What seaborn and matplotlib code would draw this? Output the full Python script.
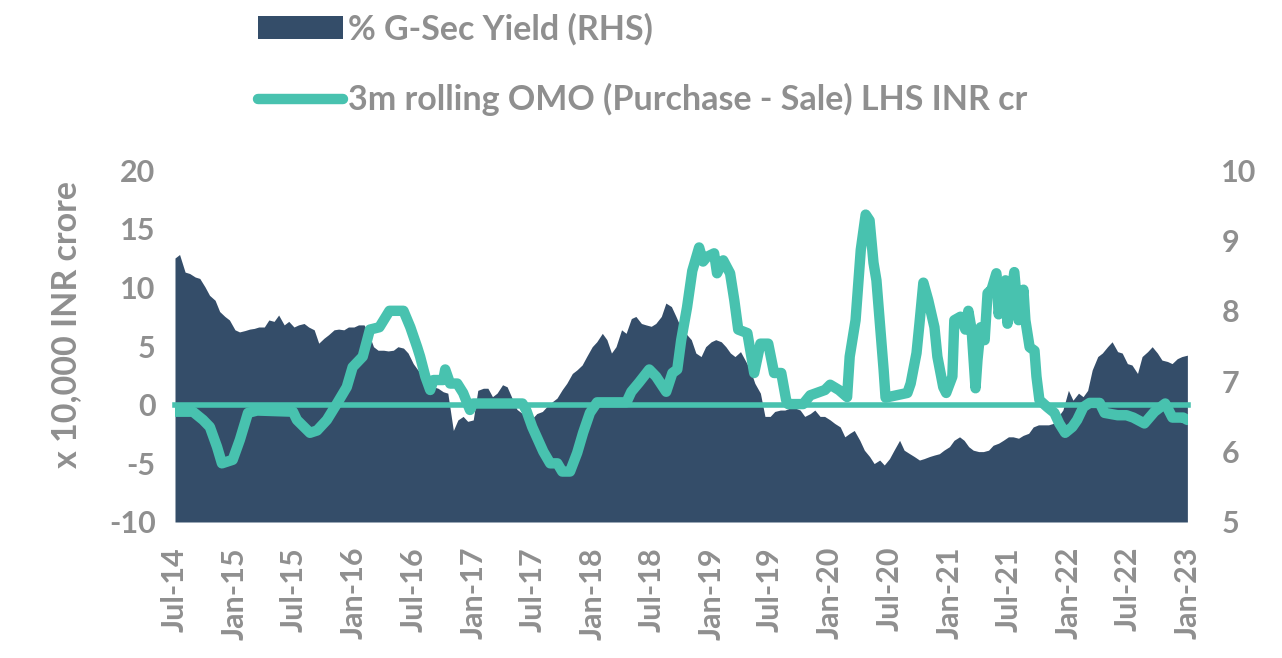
import pandas as pd
import matplotlib
matplotlib.use('Agg')
import matplotlib.pyplot as plt
import matplotlib.dates as mdates
from matplotlib.patches import Patch
from matplotlib.lines import Line2D
import seaborn as sns

# % G-Sec yield (RHS), twice a month from Jul-14 to Jan-23
yield_dates = pd.date_range('2014-07-01', '2023-01-01', freq='SMS')
gsec_yield = [8.75, 8.80, 8.55, 8.53, 8.48, 8.46, 8.34, 8.22, 8.15, 7.99,
              7.92, 7.87, 7.73, 7.70, 7.72, 7.74, 7.75, 7.77, 7.77, 7.87,
              7.85, 7.94, 7.80, 7.85, 7.77, 7.80, 7.82, 7.77, 7.73, 7.54,
              7.61, 7.66, 7.73, 7.74, 7.73, 7.77, 7.77, 7.80, 7.80, 7.68,
              7.49, 7.44, 7.44, 7.43, 7.44, 7.49, 7.47, 7.40, 7.25, 7.16,
              7.09, 7.06, 6.92, 6.90, 6.85, 6.83, 6.30, 6.45, 6.50, 6.43,
              6.45, 6.87, 6.90, 6.90, 6.78, 6.83, 6.95, 6.92, 6.75, 6.60,
              6.54, 6.50, 6.47, 6.54, 6.57, 6.64, 6.71, 6.76, 6.88, 6.97,
              7.11, 7.16, 7.23, 7.35, 7.49, 7.56, 7.68, 7.59, 7.40, 7.49,
              7.73, 7.68, 7.89, 7.92, 7.82, 7.80, 7.78, 7.82, 7.92, 8.11,
              8.06, 7.92, 7.75, 7.68, 7.59, 7.40, 7.35, 7.49, 7.56, 7.59,
              7.56, 7.49, 7.40, 7.35, 7.42, 7.30, 7.16, 6.97, 6.83, 6.50,
              6.50, 6.57, 6.59, 6.59, 6.62, 6.62, 6.59, 6.50, 6.54, 6.59,
              6.50, 6.50, 6.45, 6.40, 6.35, 6.21, 6.26, 6.30, 6.16, 6.02,
              5.93, 5.83, 5.88, 5.81, 5.90, 6.02, 6.16, 6.02, 5.97, 5.93,
              5.88, 5.90, 5.93, 5.95, 5.97, 6.02, 6.07, 6.16, 6.21, 6.16,
              6.07, 6.02, 6.00, 6.00, 6.02, 6.09, 6.12, 6.16, 6.21, 6.21,
              6.19, 6.23, 6.26, 6.35, 6.38, 6.38, 6.38, 6.40, 6.50, 6.59,
              6.87, 6.73, 6.83, 6.78, 6.87, 7.16, 7.35, 7.40, 7.49, 7.56,
              7.42, 7.40, 7.25, 7.23, 7.11, 7.35, 7.42, 7.49, 7.40, 7.30,
              7.28, 7.25, 7.32, 7.35, 7.37]

# 3m rolling OMO (Purchase - Sale), x 10,000 INR crore (LHS)
omo_dates = ['2014-07-01', '2014-08-25', '2014-09-25', '2014-10-16', '2014-11-07',
             '2014-11-22', '2014-12-25', '2015-01-16', '2015-02-10', '2015-03-10',
             '2015-06-28', '2015-07-10', '2015-08-19', '2015-09-10', '2015-10-10',
             '2015-11-10', '2015-12-10', '2015-12-28', '2016-01-28', '2016-02-19',
             '2016-03-19', '2016-04-19', '2016-06-01', '2016-06-22', '2016-07-13',
             '2016-07-22', '2016-08-07', '2016-08-22', '2016-09-01', '2016-10-01',
             '2016-10-07', '2016-10-22', '2016-11-13', '2016-12-01', '2016-12-22',
             '2017-01-01', '2017-06-01', '2017-06-13', '2017-07-01', '2017-07-19',
             '2017-08-04', '2017-08-25', '2017-09-16', '2017-10-01', '2017-10-25',
             '2017-11-16', '2017-12-04', '2017-12-25', '2018-01-16', '2018-04-16',
             '2018-05-01', '2018-05-25', '2018-06-25', '2018-07-16', '2018-08-16',
             '2018-09-04', '2018-09-19', '2018-10-01', '2018-10-19', '2018-11-04',
             '2018-11-25', '2018-12-07', '2018-12-19', '2019-01-10', '2019-01-19',
             '2019-02-07', '2019-02-28', '2019-03-13', '2019-03-25', '2019-04-22',
             '2019-05-13', '2019-06-01', '2019-06-25', '2019-07-13', '2019-08-04',
             '2019-08-19', '2019-08-25', '2019-10-10', '2019-11-01', '2019-12-16',
             '2020-01-01', '2020-01-28', '2020-02-22', '2020-03-01', '2020-03-19',
             '2020-04-04', '2020-04-19', '2020-05-01', '2020-05-13', '2020-05-22',
             '2020-06-04', '2020-06-13', '2020-06-19', '2020-08-25', '2020-09-04',
             '2020-09-22', '2020-10-01', '2020-10-13', '2020-10-28', '2020-11-16',
             '2020-11-25', '2020-12-13', '2020-12-22', '2021-01-10', '2021-01-16',
             '2021-02-04', '2021-02-19', '2021-02-28', '2021-03-10', '2021-03-22',
             '2021-03-28', '2021-04-07', '2021-04-19', '2021-04-28', '2021-05-10',
             '2021-05-25', '2021-06-01', '2021-06-07', '2021-06-22', '2021-06-28',
             '2021-07-19', '2021-08-01', '2021-08-16', '2021-08-22', '2021-09-04',
             '2021-09-19', '2021-09-25', '2021-10-04', '2021-10-28', '2021-11-19',
             '2021-12-04', '2021-12-22', '2022-01-13', '2022-01-28', '2022-02-16',
             '2022-03-07', '2022-04-07', '2022-04-22', '2022-06-01', '2022-06-28',
             '2022-07-19', '2022-08-22', '2022-09-22', '2022-10-25', '2022-11-16',
             '2022-12-19', '2023-01-01']
omo_values = [-0.6, -0.6, -1.3, -1.9, -3.6, -5.0, -4.7, -3.0, -0.7, -0.5,
              -0.6, -1.3, -2.4, -2.2, -1.3, 0.1, 1.5, 3.2, 4.1, 6.4,
              6.6, 8.0, 8.0, 6.6, 4.9, 4.1, 2.4, 1.25, 2.1, 2.1,
              3.0, 1.8, 1.8, 1.0, -0.45, 0.1, 0.1, -0.5, -1.9, -3.0,
              -4.0, -5.0, -5.0, -5.7, -5.7, -4.1, -2.4, -0.7, 0.2, 0.2,
              1.1, 1.9, 3.0, 2.4, 1.1, 2.7, 3.0, 5.5, 8.3, 11.4,
              13.4, 12.2, 12.6, 12.9, 11.2, 12.3, 11.2, 8.9, 6.4, 6.1,
              2.7, 5.2, 5.2, 2.7, 2.7, 0.4, 0.05, 0.05, 0.8, 1.25,
              1.7, 1.25, 0.65, 4.1, 7.2, 13.2, 16.2, 15.7, 12.1, 10.6,
              6.1, 3.0, 0.6, 1.0, 1.8, 4.4, 6.9, 10.4, 8.9, 6.6,
              4.1, 1.5, 1.0, 2.4, 7.2, 7.5, 6.4, 8.0, 6.4, 1.4,
              3.8, 6.6, 5.5, 9.5, 9.8, 11.2, 7.7, 8.9, 10.6, 6.9,
              11.3, 7.2, 9.8, 7.2, 4.9, 4.6, 2.4, 0.4, -0.2, -0.7,
              -1.6, -2.4, -1.9, -1.3, -0.2, 0.15, 0.15, -0.7, -0.9, -0.9,
              -1.1, -1.6, -0.6, 0.1, -1.1, -1.1, -1.3]

yield_df = pd.DataFrame({'date': yield_dates, 'yield': gsec_yield})
omo_df = pd.DataFrame({'date': pd.to_datetime(omo_dates), 'omo': omo_values})

navy = '#344D69'
teal = '#48C2AF'
grey = '#8F8F8F'

sns.set_theme(style='white')
plt.rcParams['font.family'] = ['Lato', 'DejaVu Sans']
plt.rcParams['font.weight'] = 'bold'
plt.rcParams['axes.unicode_minus'] = False

fig = plt.figure(figsize=(12.82, 6.58), dpi=100)
ax = fig.add_axes([0.1365, 0.2067, 0.7902, 0.5349])
ax2 = ax.twinx()

# area on the right axis, drawn behind the OMO line
ax2.fill_between(yield_df['date'], 5, yield_df['yield'], color=navy, lw=0)
ax2.set_ylim(5, 10)
ax2.set_yticks([5, 6, 7, 8, 9, 10])

sns.lineplot(data=omo_df, x='date', y='omo', ax=ax, color=teal, lw=7.5,
             solid_capstyle='round', solid_joinstyle='round')
ax.set_ylim(-10, 20)
ax.set_yticks([-10, -5, 0, 5, 10, 15, 20])
ax.set_zorder(ax2.get_zorder() + 1)
ax.patch.set_visible(False)

ax.set_xlim(pd.Timestamp('2014-07-01'), pd.Timestamp('2023-01-03'))
ax.xaxis.set_major_locator(mdates.MonthLocator(bymonth=[1, 7]))
ax.xaxis.set_major_formatter(mdates.DateFormatter('%b-%y'))

# zero line doubles as the category axis
for s in ['top', 'left', 'right']:
    ax.spines[s].set_visible(False)
    ax2.spines[s].set_visible(False)
ax.spines['bottom'].set_position(('data', 0))
ax.spines['bottom'].set_color(teal)
ax.spines['bottom'].set_linewidth(4)
ax.tick_params(axis='x', direction='out', length=9, width=3, color=teal,
               labelbottom=False)
ax2.spines['bottom'].set_visible(False)
ax2.xaxis.set_visible(True)
ax2.tick_params(axis='x', length=0, labelbottom=True, labelsize=22,
                labelcolor=grey, rotation=90, pad=18)

ax.tick_params(axis='y', length=0, labelsize=22, labelcolor=grey, pad=14)
ax2.tick_params(axis='y', length=0, labelsize=22, labelcolor=grey, pad=24)
ax.set_xlabel('')
ax.set_ylabel('x 10,000 INR crore', fontsize=24.5, color=grey, fontweight='bold')
ax.yaxis.set_label_coords(-0.092, 0.56)
ax.grid(False)
ax2.grid(False)

handles = [Patch(facecolor=navy, edgecolor='none'),
           Line2D([0], [0], color=teal, lw=7.5, solid_capstyle='round')]
labels = ['% G-Sec Yield (RHS)', '3m rolling OMO (Purchase - Sale) LHS INR cr']
leg = fig.legend(handles, labels, loc='upper left', bbox_to_anchor=(0.201, 0.98),
                 frameon=False, fontsize=24.5, handlelength=2.5, handleheight=0.65,
                 handletextpad=0.15, labelspacing=1.1, borderpad=0,
                 borderaxespad=0)
for t in leg.get_texts():
    t.set_color(grey)

fig.savefig('out.png', dpi=100)
